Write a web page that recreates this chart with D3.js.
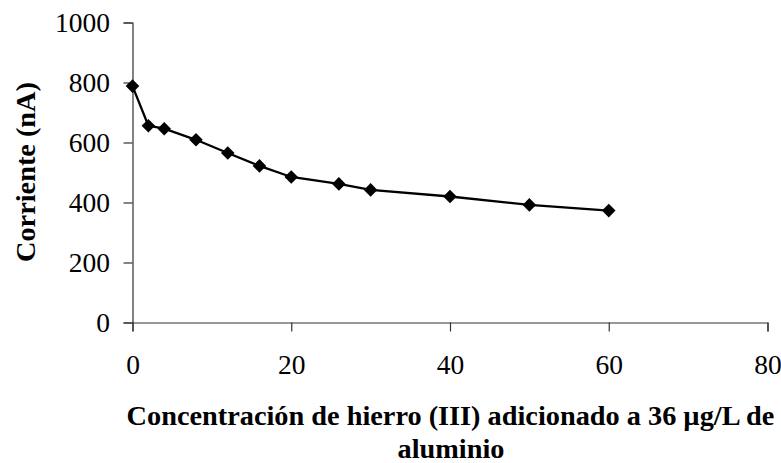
<!DOCTYPE html>
<html><head><meta charset="utf-8">
<script src="https://cdn.jsdelivr.net/npm/d3@7"></script>
<style>
html,body{margin:0;padding:0;background:#fff;}
svg{display:block;}
</style></head>
<body>
<svg id="chart" width="781" height="463"></svg>
<script>
const concentracion = [0, 2, 4, 8, 12, 16, 20, 26, 30, 40, 50, 60];
const corriente = [788, 656, 646, 609, 565, 522, 485, 462, 442, 420, 392, 373];
const xTicks = [0, 20, 40, 60, 80];
const yTicks = [0, 200, 400, 600, 800, 1000];
const xTitle = ["Concentración de hierro (III) adicionado a 36 µg/L de", "aluminio"];
const yTitle = "Corriente (nA)";

const FONT = "'Liberation Serif', 'Times New Roman', Times, serif";

const data = concentracion.map((c, i) => ({x: c, y: corriente[i]}));
const svg = d3.select("#chart");

const x = d3.scaleLinear().domain([0, 80]).range([132.5, 767.5]);
const y = d3.scaleLinear().domain([0, 1000]).range([322.5, 22.5]);

const axisColor = "#333";

const gx = svg.append("g").attr("transform", `translate(0,${y(0)})`)
  .call(d3.axisBottom(x).tickValues(xTicks).tickSizeOuter(0).tickSize(9).tickFormat(d3.format("d")));
gx.selectAll("text").attr("y", 51.5).attr("dy", null);

const gy = svg.append("g").attr("transform", `translate(${x(0)},0)`)
  .call(d3.axisLeft(y).tickValues(yTicks).tickSizeOuter(0).tickSize(9).tickPadding(13.5).tickFormat(d3.format("d")));

svg.selectAll("g").attr("font-family", FONT).attr("font-size", 27.5);
svg.selectAll(".domain, .tick line").attr("stroke", axisColor).attr("stroke-width", 1.2);
svg.selectAll(".tick text").attr("fill", "#000");

svg.append("path").datum(data)
  .attr("fill", "none").attr("stroke", "#000").attr("stroke-width", 2.3)
  .attr("d", d3.line().x(d => x(d.x)).y(d => y(d.y)));

const sym = d3.symbol().type(d3.symbolSquare).size(92);
svg.selectAll(".pt").data(data).join("path").attr("class", "pt")
  .attr("d", sym)
  .attr("transform", d => `translate(${x(d.x)},${y(d.y)}) rotate(45)`)
  .attr("fill", "#000");

const titleAttrs = sel => sel.attr("text-anchor", "middle").attr("font-family", FONT)
  .attr("font-size", 28.3).attr("font-weight", "bold").attr("fill", "#000");

svg.append("text").attr("x", 450.5).attr("y", 425).call(titleAttrs).text(xTitle[0]);
svg.append("text").attr("x", 451).attr("y", 458).call(titleAttrs).text(xTitle[1]);

svg.append("text").attr("transform", "translate(34.5,172) rotate(-90)").call(titleAttrs).text(yTitle);
</script>
</body></html>
